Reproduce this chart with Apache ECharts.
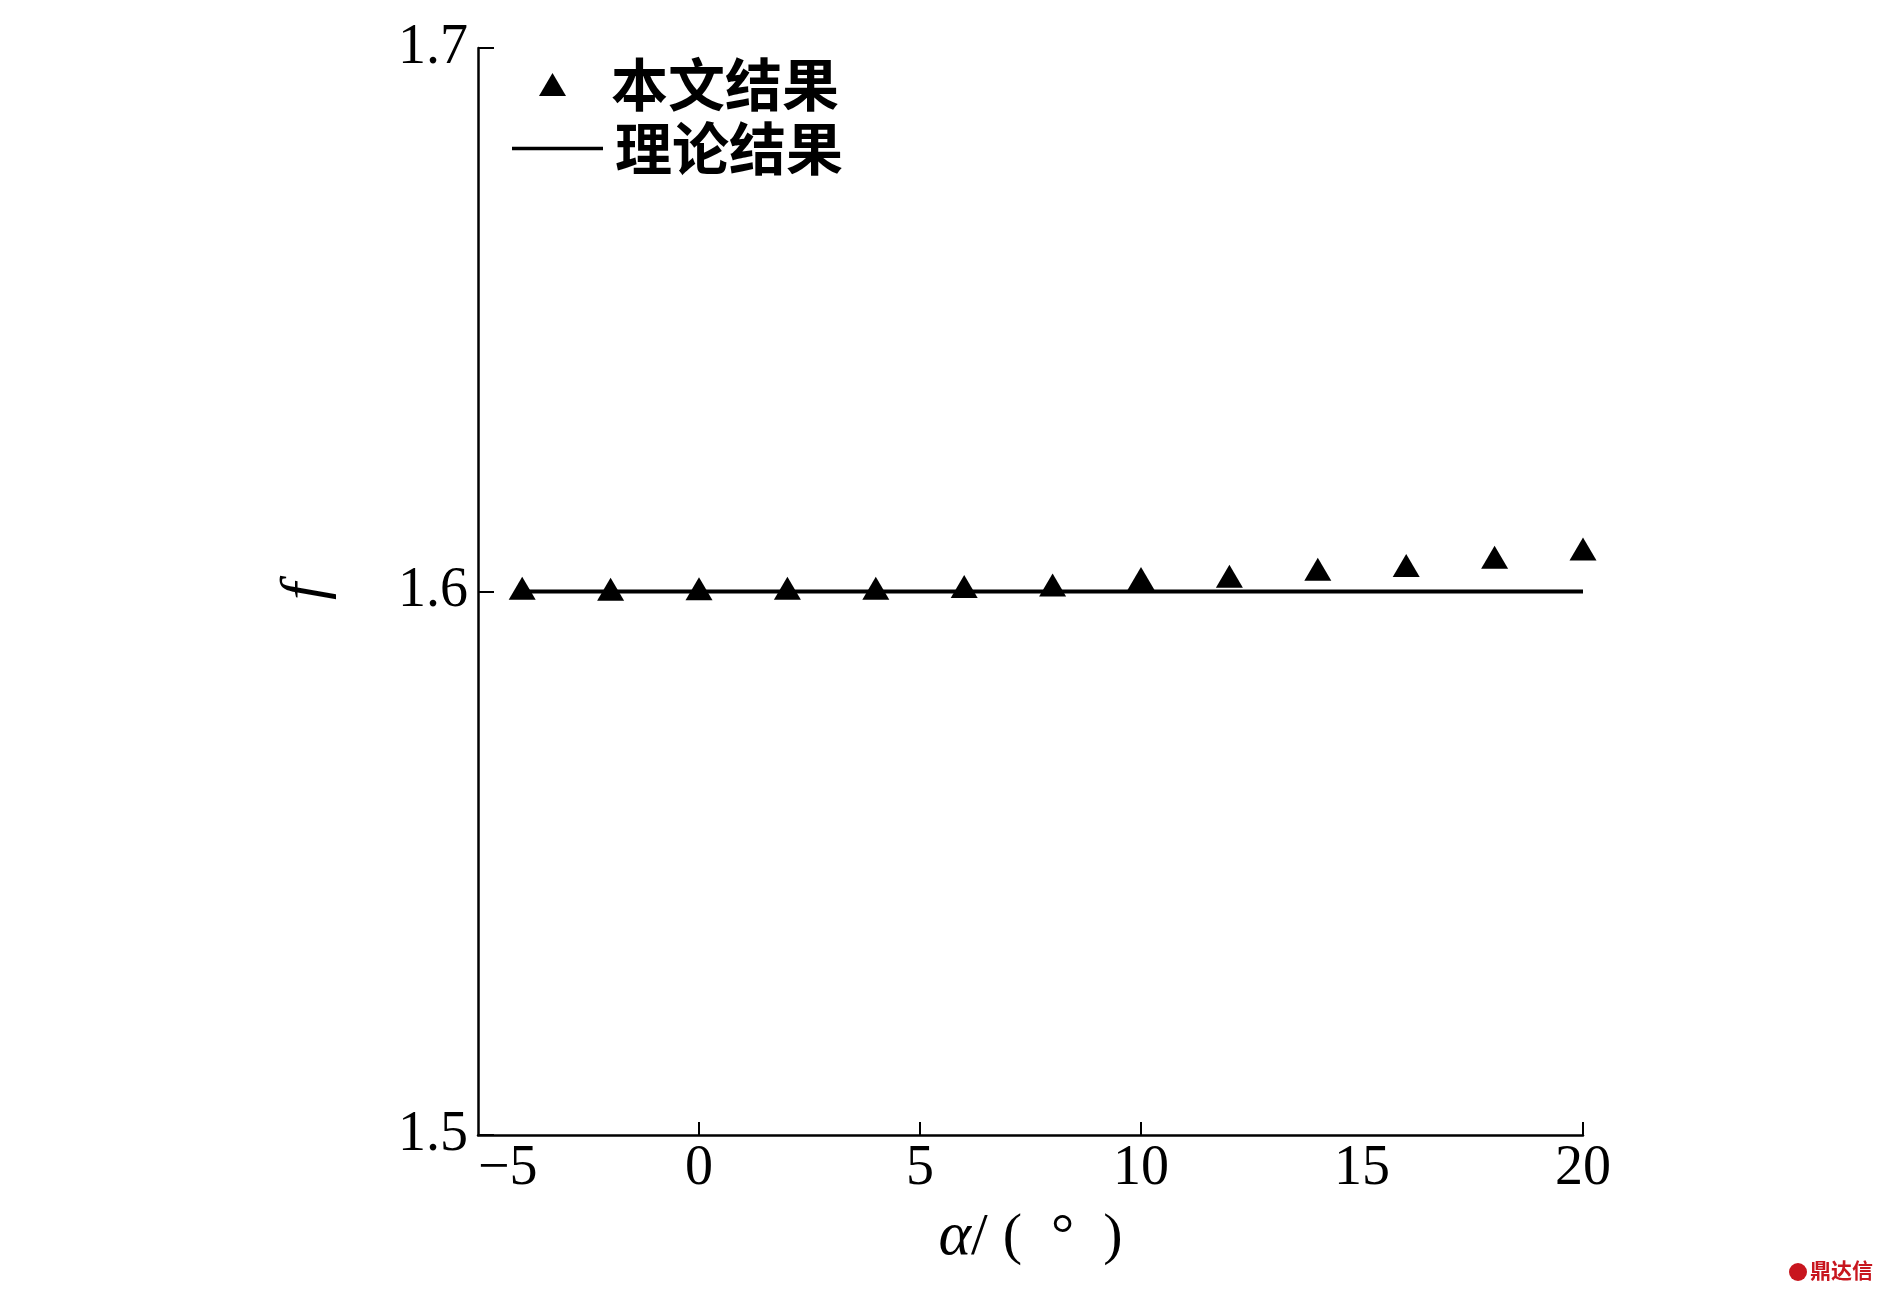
<!DOCTYPE html>
<html>
<head>
<meta charset="utf-8">
<script src="https://cdn.jsdelivr.net/npm/echarts@6/dist/echarts.min.js"></script>
<style>
html,body{margin:0;padding:0;background:#fff;}
#chart{width:1890px;height:1299px;}
</style>
</head>
<body>
<div id="chart"></div>
<script>
// ---- data ----
const alphaValues = [-4, -2, 0, 2, 4, 6, 8, 10, 12, 14, 16, 18, 20];
const fThisPaper  = [1.6006, 1.6004, 1.6005, 1.6006, 1.6006, 1.6009, 1.6012, 1.6024, 1.6028, 1.6041, 1.6048, 1.6063, 1.6078];
const theoryAlpha = [-4, 20];
const fTheory     = [1.6, 1.6];
const xTickLabels = [-5, 0, 5, 10, 15, 20];
const xTickMarks  = [0, 5, 10, 20];
const yTickLabels = [1.5, 1.6, 1.7];
const seriesNames = ['本文结果', '理论结果'];

const serif = "'Liberation Serif','Times New Roman',serif";
const cjk = "'Noto Sans CJK SC','Liberation Serif',sans-serif";

const chart = echarts.init(document.getElementById('chart'), null, {renderer: 'canvas'});
chart.setOption({
  backgroundColor: '#ffffff',
  animation: false,
  grid: {left: 478, right: 307, top: 48, bottom: 164, containLabel: false},
  legend: [
    {
      data: [seriesNames[0]], orient: 'vertical', left: 539, top: 56, padding: 0,
      itemWidth: 27, itemHeight: 23, selectedMode: false,
      textStyle: {fontFamily: cjk, fontWeight: 'bold', fontSize: 57, lineHeight: 56, color: '#000', padding: [0, 0, 0, 40]}
    },
    {
      data: [{name: seriesNames[1], icon: 'rect'}], orient: 'vertical', left: 512, top: 120, padding: 0,
      itemWidth: 91, itemHeight: 3.5, selectedMode: false,
      itemStyle: {color: '#000'},
      textStyle: {fontFamily: cjk, fontWeight: 'bold', fontSize: 57, lineHeight: 56, color: '#000', padding: [0, 0, 0, 7]}
    }
  ],
  xAxis: {
    type: 'value', min: -5, max: 20, interval: 5,
    name: '{a|α}{b|/ }{c|(\u2002°\u2002)}',
    nameLocation: 'middle', nameGap: 72,
    nameTextStyle: {
      rich: {
        a: {fontFamily: serif, fontStyle: 'italic', fontSize: 62, color: '#000'},
        b: {fontFamily: serif, fontSize: 60, color: '#000'},
        c: {fontFamily: serif, fontSize: 58, color: '#000'}
      }
    },
    axisLine: {show: true, onZero: false, lineStyle: {color: '#000', width: 2.5}},
    axisTick: {show: true, inside: true, length: 13, customValues: xTickMarks, lineStyle: {color: '#000', width: 2}},
    axisLabel: {
      customValues: xTickLabels, alignMinLabel: 'left',
      fontFamily: serif, fontSize: 56, color: '#000', margin: 6,
      formatter: v => (v < 0 ? '\u2212' + Math.abs(v) : String(v))
    },
    splitLine: {show: false}
  },
  yAxis: {
    type: 'value', min: 1.5, max: 1.7, interval: 0.1,
    name: 'f', nameLocation: 'middle', nameGap: 140, nameRotate: 90,
    nameTextStyle: {fontFamily: serif, fontStyle: 'italic', fontSize: 62, color: '#000'},
    axisLine: {show: true, onZero: false, lineStyle: {color: '#000', width: 2.5}},
    axisTick: {show: true, inside: true, length: 16, lineStyle: {color: '#000', width: 2}},
    axisLabel: {
      customValues: yTickLabels,
      fontFamily: serif, fontSize: 56, color: '#000', margin: 10,
      formatter: v => v.toFixed(1)
    },
    splitLine: {show: false}
  },
  graphic: [
    {type: 'circle', shape: {cx: 1798, cy: 1272, r: 9}, style: {fill: '#c8161e'}},
    {type: 'text', left: 1810, top: 1260, style: {text: '鼎达信', fill: '#c8161e', font: "bold 21px 'Noto Sans CJK SC'"}}
  ],
  series: [
    {
      name: seriesNames[1], type: 'line', z: 2,
      data: theoryAlpha.map((a, i) => [a, fTheory[i]]),
      symbol: 'none', showSymbol: false,
      lineStyle: {color: '#000', width: 3.8},
      itemStyle: {color: '#000'}
    },
    {
      name: seriesNames[0], type: 'scatter', z: 3,
      data: alphaValues.map((a, i) => [a, fThisPaper[i]]),
      symbol: 'triangle', symbolSize: [27, 23],
      itemStyle: {color: '#000', opacity: 1}
    }
  ]
});
</script>
</body>
</html>
